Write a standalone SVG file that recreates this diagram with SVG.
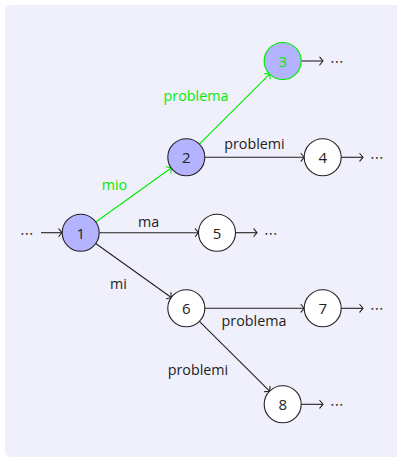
<svg xmlns="http://www.w3.org/2000/svg" width="397" height="458" viewBox="0 0 397 458">
  <defs>
    <marker id="to" markerWidth="10" markerHeight="10" refX="0" refY="0" viewBox="-5 -5 10 10" orient="auto" markerUnits="userSpaceOnUse">
      <path d="M -3.2 -3.8 Q -0.6 -0.8 0 0 Q -0.6 0.8 -3.2 3.8" fill="none" stroke="#222" stroke-width="1.1" stroke-linecap="round"/>
    </marker>
    <marker id="to-g" markerWidth="10" markerHeight="10" refX="0" refY="0" viewBox="-5 -5 10 10" orient="auto" markerUnits="userSpaceOnUse">
      <path d="M -3.2 -3.8 Q -0.6 -0.8 0 0 Q -0.6 0.8 -3.2 3.8" fill="none" stroke="#00ee00" stroke-width="1.1" stroke-linecap="round"/>
    </marker>
  </defs>
  <style>
    .bg { fill: #f0f0fc; }
    .state { fill: #ffffff; stroke: #222; stroke-width: 1.1; }
    .hit { fill: #b3b3ff; }
    .hit-g { fill: #b3b3ff; stroke: #00ee00; stroke-width: 1.2; }
    .edge { fill: none; stroke: #222; stroke-width: 1.1; marker-end: url(#to); }
    .edge-g { fill: none; stroke: #00ee00; stroke-width: 1.1; marker-end: url(#to-g); }
    text { font-family: "Open Sans", "Noto Sans", "DejaVu Sans", sans-serif; font-size: 14.3px; fill: #222; text-anchor: middle; dominant-baseline: central; }
    .num { font-size: 15px; }
    .dots { font-family: "DejaVu Sans", sans-serif; font-size: 14px; }
    .g { fill: #00ee00; }
  </style>

  <rect class="bg" x="5" y="5" width="400" height="452" rx="6"/>

  <g id="connectors">
    <line class="edge" x1="41" y1="232.7" x2="62" y2="232.7"/>
    <text class="dots" x="27" y="232.7">⋯</text>
    <line class="edge-g" x1="95.8" y1="222" x2="171.2" y2="168"/>
    <line class="edge-g" x1="199.4" y1="144.2" x2="269.6" y2="74.1"/>
    <line class="edge" x1="204.8" y1="157.3" x2="304.2" y2="157.3"/>
    <line class="edge" x1="99.2" y1="232.7" x2="198.5" y2="232.7"/>
    <line class="edge" x1="95.7" y1="243.5" x2="171.3" y2="297.5"/>
    <line class="edge" x1="204.8" y1="308.3" x2="304.2" y2="308.3"/>
    <line class="edge" x1="199.4" y1="321.4" x2="269.6" y2="391.2"/>

    <line class="edge" x1="301.2" y1="61" x2="323" y2="61"/>
    <text class="dots" x="337" y="61">⋯</text>
    <line class="edge" x1="341.2" y1="157.3" x2="363" y2="157.3"/>
    <text class="dots" x="377" y="157.3">⋯</text>
    <line class="edge" x1="235.5" y1="232.7" x2="257" y2="232.7"/>
    <text class="dots" x="271" y="232.7">⋯</text>
    <line class="edge" x1="341.2" y1="308.3" x2="363" y2="308.3"/>
    <text class="dots" x="377" y="308.3">⋯</text>
    <line class="edge" x1="301.2" y1="404.3" x2="323" y2="404.3"/>
    <text class="dots" x="337" y="404.3">⋯</text>

    <text class="g" x="114.5" y="184">mio</text>
    <text class="g" x="196" y="95.5">problema</text>
    <text x="254.5" y="143">problemi</text>
    <text x="148.5" y="221.5">ma</text>
    <text x="118.5" y="283">mi</text>
    <text x="254" y="320.5">problema</text>
    <text x="198" y="369">problemi</text>
  </g>

  <g id="n1"><circle class="state hit" cx="80.7" cy="232.7" r="18.5"/><text class="num" x="80.7" y="232.7">1</text></g>
  <g id="n2"><circle class="state hit" cx="186.3" cy="157.3" r="18.5"/><text class="num" x="186.3" y="157.3">2</text></g>
  <g id="n3"><circle class="hit-g" cx="282.7" cy="61" r="18.5"/><text class="num g" x="282.7" y="61">3</text></g>
  <g id="n4"><circle class="state" cx="322.7" cy="157.3" r="18.5"/><text class="num" x="322.7" y="157.3">4</text></g>
  <g id="n5"><circle class="state" cx="217" cy="232.7" r="18.5"/><text class="num" x="217" y="232.7">5</text></g>
  <g id="n6"><circle class="state" cx="186.3" cy="308.3" r="18.5"/><text class="num" x="186.3" y="308.3">6</text></g>
  <g id="n7"><circle class="state" cx="322.7" cy="308.3" r="18.5"/><text class="num" x="322.7" y="308.3">7</text></g>
  <g id="n8"><circle class="state" cx="282.7" cy="404.3" r="18.5"/><text class="num" x="282.7" y="404.3">8</text></g>
</svg>
